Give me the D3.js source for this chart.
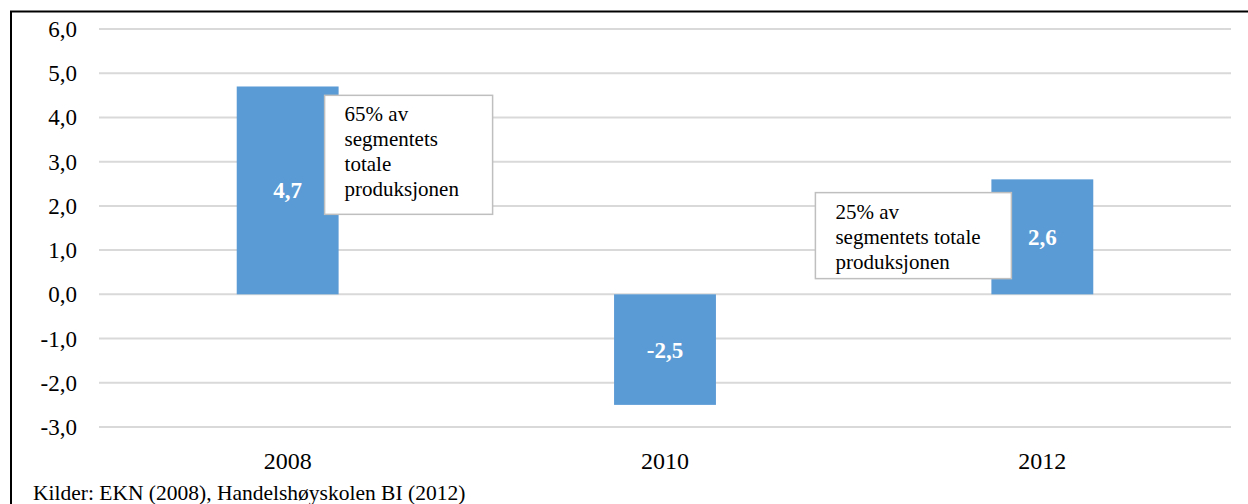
<!DOCTYPE html>
<html>
<head>
<meta charset="utf-8">
<script src="https://cdn.jsdelivr.net/npm/d3@7"></script>
<style>
  body { margin: 0; background: #fff; }
  svg { display: block; font-family: "Liberation Serif", "Times New Roman", serif; }
</style>
</head>
<body>
<div id="chart"></div>
<script>
// data
const years = ["2008", "2010", "2012"];
const values = [4.7, -2.5, 2.6];
const yTicks = [-3, -2, -1, 0, 1, 2, 3, 4, 5, 6];
const notes = [
  { year: "2008", lines: ["65% av", "segmentets", "totale", "produksjonen"] },
  { year: "2012", lines: ["25% av", "segmentets totale", "produksjonen"] }
];
const source = "Kilder: EKN (2008), Handelshøyskolen BI (2012)";

const width = 1248,
    height = 504;

const margin = { top: 29, right: 17, bottom: 77, left: 99 };

const svg = d3.select("#chart")
  .append("svg")
    .attr("width", width)
    .attr("height", height);

// frame
svg.append("path")
    .attr("d", `M11,${height} L11,11.5 L${width},11.5`)
    .attr("fill", "none")
    .attr("stroke", "#000")
    .attr("stroke-width", 2);

const x = d3.scaleBand()
    .domain(years)
    .range([margin.left, width - margin.right])
    .paddingInner(0.73)
    .paddingOuter(0.365);

const y = d3.scaleLinear()
    .domain([-3, 6])
    .range([height - margin.bottom, margin.top]);

// grid lines
svg.append("g")
  .selectAll("line")
  .data(yTicks)
  .join("line")
    .attr("x1", margin.left)
    .attr("x2", width - margin.right)
    .attr("y1", d => y(d))
    .attr("y2", d => y(d))
    .attr("stroke", "#d9d9d9")
    .attr("stroke-width", 2);

// y labels
const fmt = d => d3.format(".1f")(d).replace(".", ",").replace("−", "-");
svg.append("g")
  .selectAll("text")
  .data(yTicks)
  .join("text")
    .attr("x", 77)
    .attr("y", d => y(d))
    .attr("dy", "0.35em")
    .attr("text-anchor", "end")
    .style("font-size", "23px")
    .style("fill", "#000")
    .text(fmt);

// bars
svg.append("g")
  .selectAll("rect")
  .data(values)
  .join("rect")
    .attr("x", (d, i) => x(years[i]))
    .attr("width", x.bandwidth())
    .attr("y", d => y(Math.max(0, d)))
    .attr("height", d => Math.abs(y(d) - y(0)))
    .attr("fill", "#5b9bd5");

// bar value labels
svg.append("g")
  .selectAll("text")
  .data(values)
  .join("text")
    .attr("x", (d, i) => x(years[i]) + x.bandwidth() / 2)
    .attr("y", d => (y(d) + y(0)) / 2)
    .attr("dy", "0.35em")
    .attr("text-anchor", "middle")
    .style("font-size", "23px")
    .style("font-weight", "bold")
    .style("fill", "#fff")
    .text(d => fmt(d));

// x labels
svg.append("g")
  .selectAll("text")
  .data(years)
  .join("text")
    .attr("x", d => x(d) + x.bandwidth() / 2)
    .attr("y", 469)
    .attr("text-anchor", "middle")
    .style("font-size", "24px")
    .text(d => d);

// annotation boxes
const boxes = [
  { x0: x("2008") + x.bandwidth() - 14, y0: y(4.5), w: 168, h: 119 },
  { x0: x("2012") - 176, y0: y(2.3), w: 196, h: 86 }
];

notes.forEach((n, i) => {
  const b = boxes[i];
  const g = svg.append("g");
  g.append("rect")
      .attr("x", b.x0)
      .attr("y", b.y0)
      .attr("width", b.w)
      .attr("height", b.h)
      .attr("fill", "#fff")
      .attr("stroke", "#bfbfbf")
      .attr("stroke-width", 1.5);
  g.selectAll("text")
    .data(n.lines)
    .join("text")
      .attr("x", b.x0 + 20)
      .attr("y", (d, j) => b.y0 + 26 + j * 25)
      .style("font-size", "21px")
      .text(d => d);
});

// source
svg.append("text")
    .attr("x", 33)
    .attr("y", 500)
    .style("font-size", "21.5px")
    .text(source);
</script>
</body>
</html>
